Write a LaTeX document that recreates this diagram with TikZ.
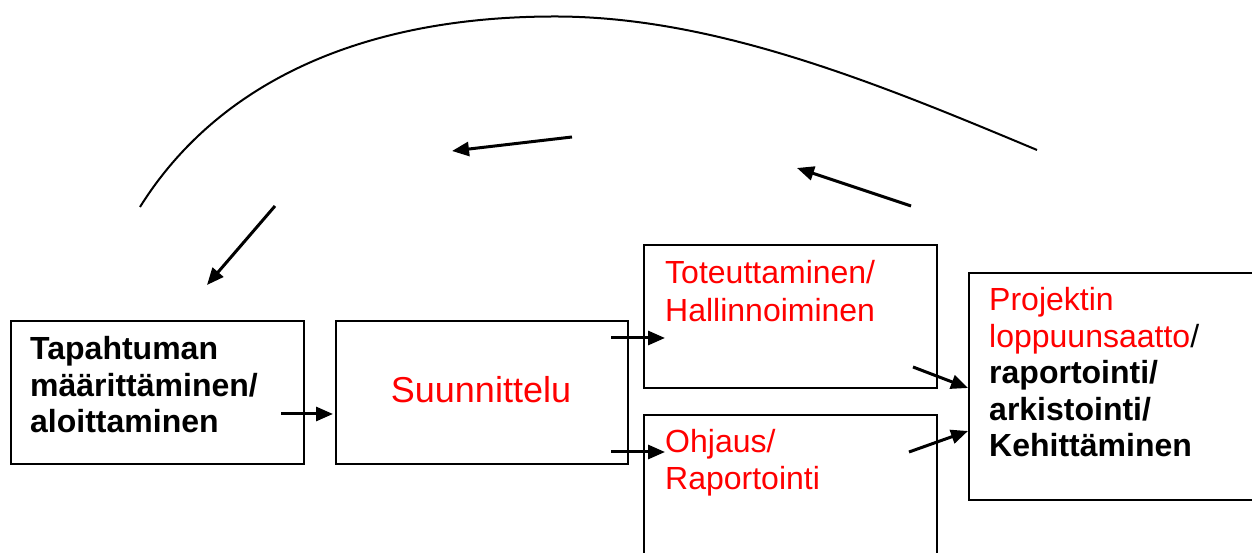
\documentclass[tikz,border=0pt]{standalone}
\usepackage{fontspec}
\setmainfont{Liberation Sans}
\usetikzlibrary{arrows.meta}
\definecolor{stagered}{RGB}{255,0,0}

\begin{document}
\begin{tikzpicture}[x=1pt,y=1pt,
  stagebox/.style={draw=black,line width=2pt,fill=none,anchor=north west,inner sep=0pt},
  lbl/.style={anchor=base west,inner sep=0pt,font=\fontsize{32}{37}\selectfont},
  rlbl/.style={lbl,text=stagered},
  blbl/.style={lbl,font=\fontsize{32}{37}\selectfont\bfseries},
  flow/.style={line width=3pt,-{Triangle[length=17pt,width=14pt]}},
  loopline/.style={line width=2pt}
]
\useasboundingbox (0,0) rectangle (1252,553);
\clip (0,0) rectangle (1252,553);

% stage boxes
\node[stagebox,minimum width=293pt,minimum height=143pt] (start) at (10,233) {};
\node[stagebox,minimum width=292pt,minimum height=143pt] (plan) at (335,233) {};
\node[stagebox,minimum width=293pt,minimum height=143pt] (exec) at (643,309) {};
\node[stagebox,minimum width=293pt,minimum height=200pt] (ctrl) at (643,139) {};
\node[stagebox,minimum width=320pt,minimum height=227pt] (close) at (968,281) {};

% box texts
\node[blbl] (s1) at (30,193) {Tapahtuman};
\node[blbl] (s2) at (30,156) {määrittäminen/};
\node[blbl] (s3) at (30,120) {aloittaminen};

\node[anchor=base,inner sep=0pt,text=stagered,font=\fontsize{36}{40}\selectfont] (p1) at (481,150) {Suunnittelu};

\node[rlbl] (e1) at (665,269) {Toteuttaminen/};
\node[rlbl] (e2) at (665,231) {Hallinnoiminen};

\node[rlbl] (c1) at (665,100) {Ohjaus/};
\node[rlbl] (c2) at (665,63) {Raportointi};

\node[rlbl] (k1) at (989,242) {Projektin};
\node[lbl] (k2) at (989,205.5) {\textcolor{stagered}{loppuunsaatto}/};
\node[blbl] (k3) at (989,169) {raportointi/};
\node[blbl] (k4) at (989,132.5) {arkistointi/};
\node[blbl] (k5) at (989,96) {Kehittäminen};

% arrow end points
\coordinate (a12s) at (281,139);  \coordinate (a12t) at (333,139);
\coordinate (a23s) at (611,215);  \coordinate (a23t) at (665,215);
\coordinate (a24s) at (611,101);  \coordinate (a24t) at (665,101);
\coordinate (a35s) at (913,186);  \coordinate (a35t) at (968,165);
\coordinate (a45s) at (909,101);  \coordinate (a45t) at (968,122);
\coordinate (r1s) at (911,347);   \coordinate (r1t) at (797,385);
\coordinate (r2s) at (572,416);   \coordinate (r2t) at (452,402);
\coordinate (r3s) at (275,347);   \coordinate (r3t) at (207,268);

% forward flow
\draw[flow] (a12s) -- (a12t);
\draw[flow] (a23s) -- (a23t);
\draw[flow] (a24s) -- (a24t);
\draw[flow] (a35s) -- (a35t);
\draw[flow] (a45s) -- (a45t);

% feedback loop
\coordinate (arcS) at (140,346);
\coordinate (arcT) at (555,536.5);
\coordinate (arcE) at (1037,403);
\draw[loopline] (arcS) .. controls (215,466) and (355,536.5) .. (arcT)
                       .. controls (715,536.5) and (877,470) .. (arcE);
\draw[flow] (r1s) -- (r1t);
\draw[flow] (r2s) -- (r2t);
\draw[flow] (r3s) -- (r3t);
\end{tikzpicture}
\end{document}
